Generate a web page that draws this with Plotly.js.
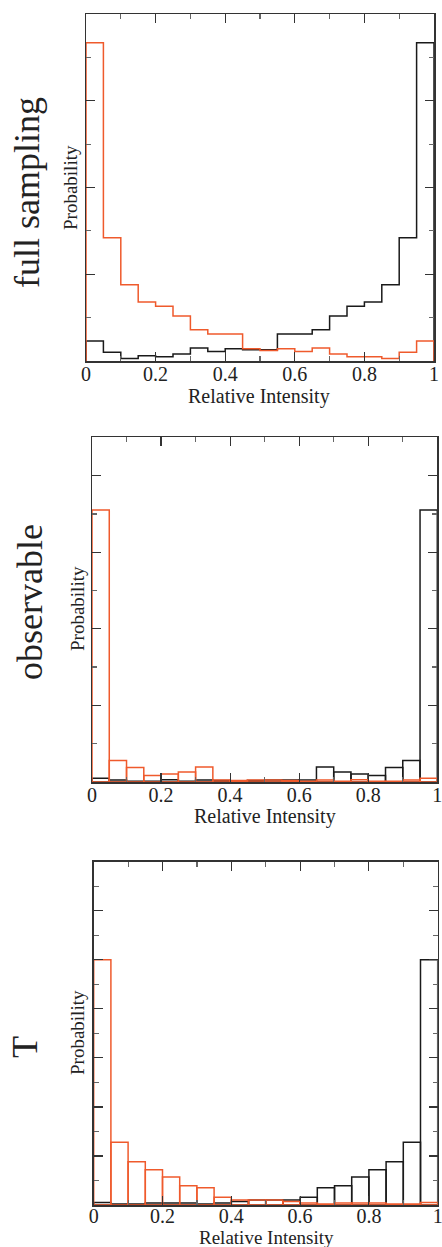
<!DOCTYPE html>
<html>
<head>
<meta charset="utf-8">
<script src="https://cdn.plot.ly/plotly-3.0.1.min.js"></script>
<style>
  html, body { margin: 0; padding: 0; background: #fff; }
  #chart { width: 442px; height: 1247px; }
</style>
</head>
<body>
<div id="chart"></div>
<script>
// ---- data (probability per bin, bins of width 0.05 on Relative Intensity) ----
const binLeft = [0, 0.05, 0.1, 0.15, 0.2, 0.25, 0.3, 0.35, 0.4, 0.45,
                 0.5, 0.55, 0.6, 0.65, 0.7, 0.75, 0.8, 0.85, 0.9, 0.95];
const binWidth = 0.05;
const xTickVals = [0, 0.2, 0.4, 0.6, 0.8, 1];
const xTickText = ["0", "0.2", "0.4", "0.6", "0.8", "1"];
const panelNames = ["full sampling", "observable", "T"];

// panel 1: full sampling
const fullRed   = [0.367, 0.142, 0.088, 0.068, 0.063, 0.052, 0.036, 0.031, 0.031, 0.014,
                   0.012, 0.014, 0.011, 0.015, 0.008, 0.005, 0.005, 0.003, 0.010, 0.023];
const fullBlack = [0.023, 0.010, 0.003, 0.006, 0.005, 0.008, 0.015, 0.011, 0.014, 0.013,
                   0.013, 0.031, 0.031, 0.036, 0.052, 0.063, 0.068, 0.088, 0.142, 0.367];
// panel 2: observable
const obsRed    = [0.710, 0.056, 0.038, 0.017, 0.021, 0.026, 0.039, 0.005, 0.004, 0.005,
                   0.005, 0.004, 0.002, 0.005, 0.002, 0.006, 0.002, 0.002, 0.005, 0.010];
const obsBlack  = [0.010, 0.005, 0.002, 0.002, 0.006, 0.002, 0.005, 0.004, 0.002, 0.004,
                   0.005, 0.005, 0.005, 0.039, 0.026, 0.021, 0.017, 0.038, 0.056, 0.710];
// panel 3: T
const tRed      = [0.500, 0.128, 0.088, 0.072, 0.057, 0.039, 0.035, 0.016, 0.010, 0.010,
                   0.010, 0.007, 0.004, 0.002, 0.004, 0.004, 0.004, 0.002, 0.002, 0.005];
const tBlack    = [0.005, 0.002, 0.002, 0.004, 0.004, 0.004, 0.002, 0.004, 0.007, 0.010,
                   0.010, 0.010, 0.016, 0.035, 0.039, 0.057, 0.072, 0.088, 0.128, 0.500];

const yMax = [0.4, 0.9, 0.7];
const yMajor = [0.1, 0.2, 0.1];
const yMinor = [0.05, 0.1, 0.05];

// ---- styling / layout geometry ----
const W = 442, H = 1247;
const RED = "#ef5a2c", BLACK = "#1a1a1a", AX = "#333333";
const SERIF = "Times New Roman, Times, Liberation Serif, DejaVu Serif, serif";
// plot-area boxes in pixels: [left, right, top, bottom]
const boxes = [[86, 434, 14, 361], [92, 437.3, 437.3, 782], [93.7, 437.7, 861.7, 1205]];
const sideLabelPos = [[27, 193], [30, 602], [25, 1047]];
const probPos = [[70, 188], [77, 609], [77, 1033]];
const xTitlePos = [[259, 396], [265, 816], [266, 1237]];
const xTitleSize = [20, 20, 19];
const tickStandoff = [-6, -6, -8];

function px2x(p) { return p / W; }
function px2y(p) { return 1 - p / H; }

function stepTrace(vals, color, xa, ya) {
  const x = [0].concat(binLeft, [1, 1]);
  const y = [0].concat(vals, [vals[vals.length - 1], 0]);
  return { type: "scatter", mode: "lines", x: x, y: y, xaxis: xa, yaxis: ya,
           line: { shape: "hv", color: color, width: 1.5 }, hoverinfo: "skip", showlegend: false };
}
function barTrace(vals, color, xa, ya) {
  return { type: "bar", x: binLeft.map(v => v + binWidth / 2), y: vals, width: binWidth,
           xaxis: xa, yaxis: ya, marker: { color: "rgba(0,0,0,0)", line: { color: color, width: 1.5 } },
           hoverinfo: "skip", showlegend: false };
}

const data = [
  stepTrace(fullBlack, BLACK, "x", "y"),
  stepTrace(fullRed, RED, "x", "y"),
  barTrace(obsBlack, BLACK, "x2", "y2"),
  barTrace(obsRed, RED, "x2", "y2"),
  barTrace(tBlack, BLACK, "x3", "y3"),
  barTrace(tRed, RED, "x3", "y3"),
];

const layout = {
  width: W, height: H,
  margin: { l: 0, r: 0, t: 0, b: 0 },
  paper_bgcolor: "#fff", plot_bgcolor: "#fff",
  barmode: "overlay",
  showlegend: false,
  font: { family: SERIF, color: "#222", size: 20 },
  annotations: [],
};

for (let i = 0; i < 3; i++) {
  const [l, r, t, b] = boxes[i];
  const sfx = i === 0 ? "" : String(i + 1);
  layout["xaxis" + sfx] = {
    domain: [px2x(l), px2x(r)], anchor: "y" + sfx, range: [0, 1],
    showgrid: false, zeroline: false, showline: true, linecolor: AX, linewidth: 1.5,
    mirror: "ticks", ticks: "inside", ticklen: 9, tickwidth: 1.2, tickcolor: AX,
    tickvals: xTickVals, ticktext: xTickText,
    tickfont: { family: SERIF, size: 20, color: "#222" },
    ticklabeloverflow: "allow", ticklabelstandoff: tickStandoff[i],
    minor: { dtick: 0.1, tick0: 0, ticks: "inside", ticklen: 5, tickwidth: 1.2, tickcolor: "#666", showgrid: false },
    fixedrange: true,
  };
  layout["yaxis" + sfx] = {
    domain: [px2y(b), px2y(t)], anchor: "x" + sfx, range: [0, yMax[i]],
    showgrid: false, zeroline: false, showline: true, linecolor: AX, linewidth: 1.5,
    mirror: "ticks", ticks: "inside", ticklen: 9, tickwidth: 1.2, tickcolor: AX,
    dtick: yMajor[i], tick0: 0, showticklabels: false,
    minor: { dtick: yMinor[i], tick0: 0, ticks: "inside", ticklen: 5, tickwidth: 1.2, tickcolor: "#666", showgrid: false },
    fixedrange: true,
  };
  layout.annotations.push({
    text: panelNames[i], xref: "paper", yref: "paper",
    x: px2x(sideLabelPos[i][0]), y: px2y(sideLabelPos[i][1]),
    xanchor: "center", yanchor: "middle", textangle: -90, showarrow: false,
    font: { family: SERIF, size: 36, color: "#222" },
  });
  layout.annotations.push({
    text: "Probability", xref: "paper", yref: "paper",
    x: px2x(probPos[i][0]), y: px2y(probPos[i][1]),
    xanchor: "center", yanchor: "middle", textangle: -90, showarrow: false,
    font: { family: SERIF, size: 19, color: "#222" },
  });
  layout.annotations.push({
    text: "Relative Intensity", xref: "paper", yref: "paper",
    x: px2x(xTitlePos[i][0]), y: px2y(xTitlePos[i][1]),
    xanchor: "center", yanchor: "middle", showarrow: false,
    font: { family: SERIF, size: xTitleSize[i], color: "#222" },
  });
}

Plotly.newPlot("chart", data, layout, { staticPlot: true, displayModeBar: false });
</script>
</body>
</html>
